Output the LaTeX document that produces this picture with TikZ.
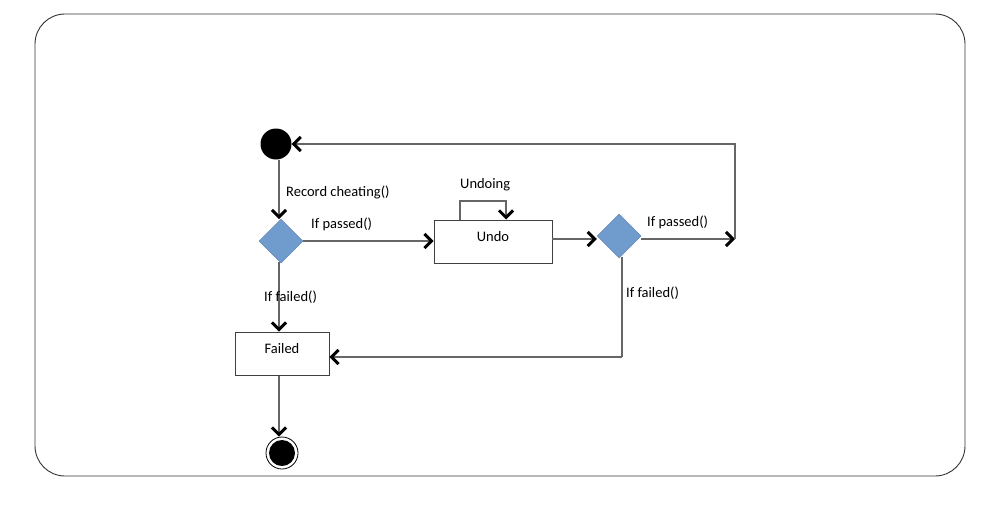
\documentclass[tikz,border=0pt]{standalone}
\usepackage{fontspec}
\setmainfont{Carlito}
\usetikzlibrary{shapes.geometric, arrows.meta}

\tikzset{
  flow/.style={draw=black!60, line width=1.3pt,
    -{Straight Barb[black, line width=3pt, length=7pt, width=14pt]}},
  wire/.style={draw=black!60, line width=1.3pt},
  statebox/.style={draw=black!75, line width=0.9pt, fill=white, rectangle,
    minimum height=43pt, inner sep=0pt, font=\fontsize{14.5}{17}\selectfont},
  decision/.style={diamond, fill={rgb,255:red,112;green,155;blue,205},
    draw={rgb,255:red,96;green,132;blue,178}, line width=0.5pt,
    minimum width=44pt, minimum height=44pt, inner sep=0pt},
  guard/.style={font=\fontsize{14.5}{17}\selectfont, inner sep=0pt}
}

\begin{document}
\begin{tikzpicture}[x=1pt, y=-1pt, line cap=butt, line join=miter]

  % ── Canvas ───────────────────────────────────────────────────────────────────
  \useasboundingbox (0,0) rectangle (985,504);
  \draw[black!80, line width=0.9pt, rounded corners=30pt] (35,14) rectangle (965,476);

  % ── States ───────────────────────────────────────────────────────────────────
  \node[circle, fill=black, minimum size=31pt, inner sep=0pt] (start) at (276,144) {};
  \node[decision] (dec1) at (281,241) {};
  \node[statebox, minimum width=118pt] (undo) at (493,241.5) {\raisebox{11pt}{Undo}};
  \node[decision] (dec2) at (619,236) {};
  \node[statebox, minimum width=94pt] (failed) at (282,354) {\raisebox{11pt}{Failed}};
  \node[circle, draw=black, line width=0.8pt, fill=white,
        minimum size=32pt, inner sep=0pt] (stop) at (282,453) {};
  \fill[black] (stop.center) circle (13pt);

  % ── Turning points ───────────────────────────────────────────────────────────
  \coordinate (turn)  at (735,239);
  \coordinate (loopa) at (460,201);
  \coordinate (loopb) at (506,201);
  \coordinate (drop)  at (622,357);

  % ── Transitions ──────────────────────────────────────────────────────────────
  \draw[flow] (279,159.5) -- (279,219);
  \draw[flow] (dec1.east) -- (undo.west |- dec1.east);
  \draw[flow] (460,220) -- (loopa) -- (loopb) -- (506,219.5);
  \draw[flow] (undo.east |- 0,239) -- (dec2.west |- 0,239);
  \draw[flow] (dec2.east |- 0,239) -- (turn);
  \draw[flow] (turn) |- (start.east);
  \draw[wire] (622,257) -- (drop);
  \draw[flow] (drop) -- (failed.east |- drop);
  \draw[flow] (279,262) -- (279,331.5);
  \draw[flow] (279,376) -- (279,436.5);

  % ── Guards ───────────────────────────────────────────────────────────────────
  \node[guard, anchor=west] (lrec)   at (286,192) {Record cheating()};
  \node[guard, anchor=west] (lpass1) at (311,224) {If passed()};
  \node[guard, anchor=west] (lundo)  at (460,185) {Undoing};
  \node[guard, anchor=west] (lpass2) at (647,222) {If passed()};
  \node[guard, anchor=west] (lfail1) at (264,297) {If failed()};
  \node[guard, anchor=west] (lfail2) at (626,293) {If failed()};

\end{tikzpicture}
\end{document}
